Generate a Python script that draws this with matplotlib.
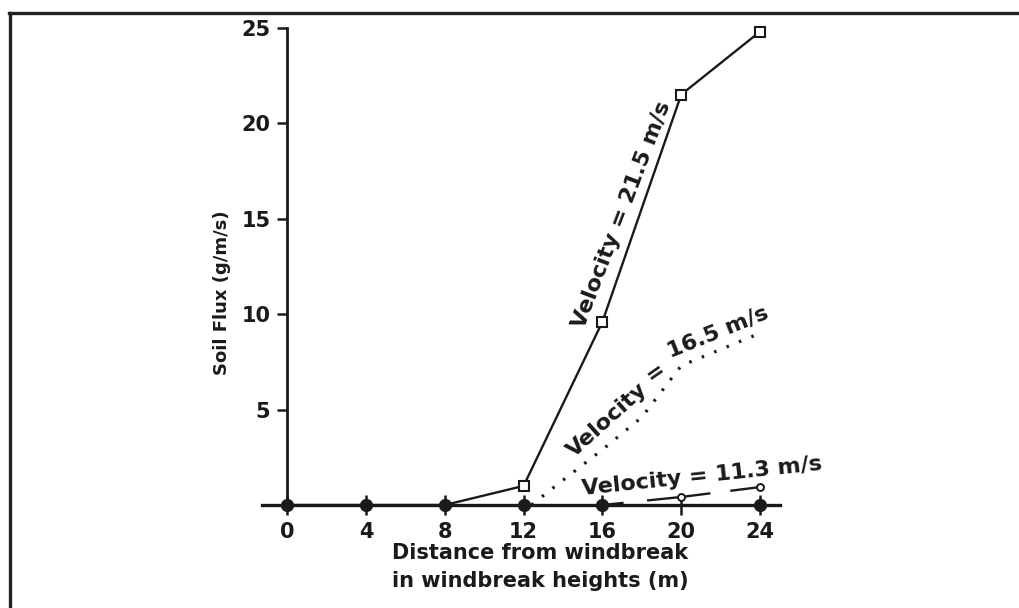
import matplotlib
matplotlib.use("Agg")
import matplotlib.pyplot as plt
from matplotlib.lines import Line2D

# distance from windbreak (windbreak heights)
xticks = [0, 4, 8, 12, 16, 20, 24]
xlabels = ["0", "4", "8", "12", "16", "20", "24"]
yticks = [5, 10, 15, 20, 25]

# soil flux (g/m/s) for each wind velocity
v215_x = [0, 4, 8, 12, 16, 20, 24]
v215_y = [0, 0, 0, 1.0, 9.6, 21.5, 24.8]
v165_x = [12.4, 13.5, 16, 18, 20, 24]
v165_y = [0, 0.9, 2.9, 4.6, 7.3, 9.0]
v113_x = [16, 20, 24]
v113_y = [0, 0.42, 0.94]
base_x = [0, 4, 8, 12, 16, 24]
base_y = [0, 0, 0, 0, 0, 0]

plt.rcParams["font.family"] = ["DejaVu Sans"]
plt.rcParams["font.weight"] = "bold"
ink = "#1a1a1a"

fig = plt.figure(figsize=(10.2, 6.08), dpi=100)
ax = fig.add_axes([0.2569, 0.1694, 0.5078, 0.7944])

ax.plot(v215_x, v215_y, color=ink, lw=1.7, marker="s", ms=6.5, mfc="white",
        mec=ink, mew=1.5, markevery=[3, 4, 5, 6])
ax.plot(v165_x, v165_y, color=ink, lw=2.3, ls=(0, (0.8, 3.4)))
ax.plot(v113_x, v113_y, color=ink, lw=1.7, ls=(0, (9, 10, 27, 8.5, 20, 4)),
        marker="o", ms=5, mfc="white", mec=ink, mew=1.4, markevery=[1, 2])
ax.plot(base_x, base_y, ls="none", marker="o", ms=8.5, color=ink, clip_on=False)

ax.set_xlim(-1.27, 25.01)
ax.set_ylim(0, 25.3)

for s in ["top", "right"]:
    ax.spines[s].set_visible(False)
ax.spines["left"].set_position(("data", 0))
ax.spines["left"].set_bounds(0, 25)
ax.spines["left"].set_linewidth(2.0)
ax.spines["bottom"].set_linewidth(2.4)
ax.spines["left"].set_color(ink)
ax.spines["bottom"].set_color(ink)

ax.set_xticks(xticks)
ax.set_xticklabels(xlabels)
ax.set_yticks(yticks)
ax.tick_params(axis="x", direction="inout", length=14, width=1.8, pad=5,
               labelsize=15, colors=ink)
ax.tick_params(axis="y", direction="out", length=7, width=1.8, pad=5,
               labelsize=15, colors=ink)

ax.text(-3.3, 11.1, "Soil Flux (g/m/s)", rotation=90, ha="center",
        va="center", fontsize=13, color=ink)
ax.text(12.84, -2.52, "Distance from windbreak", ha="center", va="center",
        fontsize=15, color=ink)
ax.text(12.84, -3.98, "in windbreak heights (m)", ha="center", va="center",
        fontsize=15, color=ink)

ax.text(15.07, 9.17, "Velocity = 21.5 m/s", rotation=69, rotation_mode="anchor",
        ha="left", va="baseline", fontsize=16, color=ink)
# the 16.5 m/s label bends along the curve in the original
ax.text(14.56, 2.46, "Velocity", rotation=42, rotation_mode="anchor",
        ha="left", va="baseline", fontsize=16, color=ink)
ax.text(18.67, 6.97, "=", rotation=35, rotation_mode="anchor",
        ha="center", va="center", fontsize=16, color=ink)
ax.text(19.43, 7.7, "16.5 m/s", rotation=22, rotation_mode="anchor",
        ha="left", va="baseline", fontsize=16, color=ink)
ax.text(15.0, 0.52, "Velocity = 11.3 m/s", rotation=6, rotation_mode="anchor",
        ha="left", va="baseline", fontsize=16, color=ink)

# frame around the figure (top and left edges only)
fig.add_artist(Line2D([0.009, 1.0], [0.979, 0.979], color="#222222", lw=2.4,
                      transform=fig.transFigure))
fig.add_artist(Line2D([0.0098, 0.0098], [0.0, 0.979], color="#222222", lw=2.4,
                      transform=fig.transFigure))

fig.savefig("out.png", dpi=100)
